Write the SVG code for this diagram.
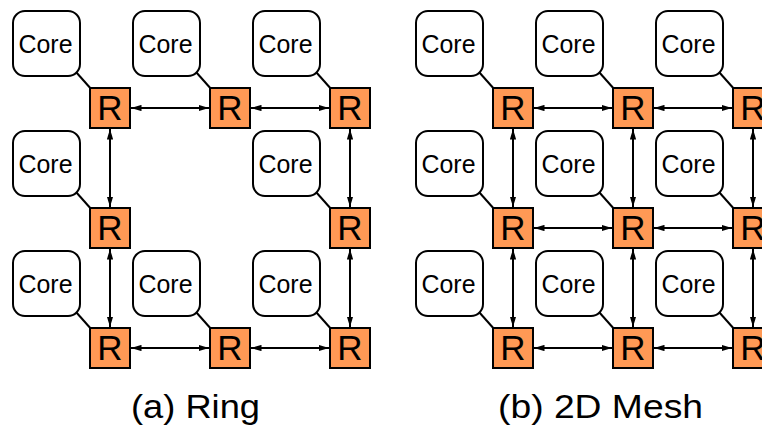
<svg xmlns="http://www.w3.org/2000/svg" width="762" height="431" viewBox="0 0 762 431">
  <style>
    .core rect { fill: #ffffff; stroke: #000000; stroke-width: 2; }
    .core text { font-family: "Liberation Sans", Arial, sans-serif; font-size: 25px; text-anchor: middle; fill: #000000; }
    .router rect { fill: #FF9955; stroke: #000000; stroke-width: 2; }
    .router text { font-family: "Liberation Sans", Arial, sans-serif; font-size: 35px; text-anchor: middle; fill: #000000; }
    .link { stroke: #000000; stroke-width: 2; fill: none; }
    .arrow { stroke: #000000; stroke-width: 2; fill: none; marker-start: url(#head); marker-end: url(#head); }
    .caption { font-family: "Liberation Sans", Arial, sans-serif; font-size: 34px; fill: #000000; }
  </style>
  <defs>
    <marker id="head" viewBox="0 0 10 6" refX="10" refY="3" markerWidth="10.5" markerHeight="6.5" markerUnits="userSpaceOnUse" orient="auto-start-reverse">
      <path d="M0,0 L10,3 L0,6 z" fill="#000000"/>
    </marker>
  </defs>
  <rect x="0" y="0" width="762" height="431" fill="#ffffff"/>

  <!-- links: core-to-router stubs and router-to-router channels -->
  <g id="connectors">
    <!-- ring: core stubs -->
    <line class="link" x1="76" y1="72" x2="92" y2="90"/>
    <line class="link" x1="196" y1="72" x2="212" y2="90"/>
    <line class="link" x1="316" y1="72" x2="332" y2="90"/>
    <line class="link" x1="76" y1="192" x2="92" y2="210"/>
    <line class="link" x1="316" y1="192" x2="332" y2="210"/>
    <line class="link" x1="76" y1="312" x2="92" y2="330"/>
    <line class="link" x1="196" y1="312" x2="212" y2="330"/>
    <line class="link" x1="316" y1="312" x2="332" y2="330"/>
    <!-- ring: channels -->
    <line class="arrow" x1="131" y1="108" x2="209" y2="108"/>
    <line class="arrow" x1="251" y1="108" x2="329" y2="108"/>
    <line class="arrow" x1="131" y1="348" x2="209" y2="348"/>
    <line class="arrow" x1="251" y1="348" x2="329" y2="348"/>
    <line class="arrow" x1="110" y1="129" x2="110" y2="207"/>
    <line class="arrow" x1="110" y1="249" x2="110" y2="327"/>
    <line class="arrow" x1="350" y1="129" x2="350" y2="207"/>
    <line class="arrow" x1="350" y1="249" x2="350" y2="327"/>

    <!-- mesh: core stubs -->
    <line class="link" x1="479" y1="72" x2="495" y2="90"/>
    <line class="link" x1="599" y1="72" x2="615" y2="90"/>
    <line class="link" x1="719" y1="72" x2="735" y2="90"/>
    <line class="link" x1="479" y1="192" x2="495" y2="210"/>
    <line class="link" x1="599" y1="192" x2="615" y2="210"/>
    <line class="link" x1="719" y1="192" x2="735" y2="210"/>
    <line class="link" x1="479" y1="312" x2="495" y2="330"/>
    <line class="link" x1="599" y1="312" x2="615" y2="330"/>
    <line class="link" x1="719" y1="312" x2="735" y2="330"/>
    <!-- mesh: horizontal channels -->
    <line class="arrow" x1="534" y1="108" x2="612" y2="108"/>
    <line class="arrow" x1="654" y1="108" x2="732" y2="108"/>
    <line class="arrow" x1="534" y1="228" x2="612" y2="228"/>
    <line class="arrow" x1="654" y1="228" x2="732" y2="228"/>
    <line class="arrow" x1="534" y1="348" x2="612" y2="348"/>
    <line class="arrow" x1="654" y1="348" x2="732" y2="348"/>
    <!-- mesh: vertical channels -->
    <line class="arrow" x1="513" y1="129" x2="513" y2="207"/>
    <line class="arrow" x1="513" y1="249" x2="513" y2="327"/>
    <line class="arrow" x1="633" y1="129" x2="633" y2="207"/>
    <line class="arrow" x1="633" y1="249" x2="633" y2="327"/>
    <line class="arrow" x1="753" y1="129" x2="753" y2="207"/>
    <line class="arrow" x1="753" y1="249" x2="753" y2="327"/>
  </g>

  <!-- (a) ring topology -->
  <g id="ring">
    <g id="ring-core-0-0" class="core"><rect x="13" y="11" width="67" height="65" rx="12"/><text x="45.5" y="53" textLength="54" lengthAdjust="spacingAndGlyphs">Core</text></g>
    <g id="ring-core-0-1" class="core"><rect x="133" y="11" width="67" height="65" rx="12"/><text x="165.5" y="53" textLength="54" lengthAdjust="spacingAndGlyphs">Core</text></g>
    <g id="ring-core-0-2" class="core"><rect x="253" y="11" width="67" height="65" rx="12"/><text x="285.5" y="53" textLength="54" lengthAdjust="spacingAndGlyphs">Core</text></g>
    <g id="ring-core-1-0" class="core"><rect x="13" y="131" width="67" height="65" rx="12"/><text x="45.5" y="173" textLength="54" lengthAdjust="spacingAndGlyphs">Core</text></g>
    <g id="ring-core-1-2" class="core"><rect x="253" y="131" width="67" height="65" rx="12"/><text x="285.5" y="173" textLength="54" lengthAdjust="spacingAndGlyphs">Core</text></g>
    <g id="ring-core-2-0" class="core"><rect x="13" y="251" width="67" height="65" rx="12"/><text x="45.5" y="293" textLength="54" lengthAdjust="spacingAndGlyphs">Core</text></g>
    <g id="ring-core-2-1" class="core"><rect x="133" y="251" width="67" height="65" rx="12"/><text x="165.5" y="293" textLength="54" lengthAdjust="spacingAndGlyphs">Core</text></g>
    <g id="ring-core-2-2" class="core"><rect x="253" y="251" width="67" height="65" rx="12"/><text x="285.5" y="293" textLength="54" lengthAdjust="spacingAndGlyphs">Core</text></g>

    <g id="ring-router-0-0" class="router"><rect x="90" y="88" width="40" height="40"/><text x="110" y="120">R</text></g>
    <g id="ring-router-0-1" class="router"><rect x="210" y="88" width="40" height="40"/><text x="230" y="120">R</text></g>
    <g id="ring-router-0-2" class="router"><rect x="330" y="88" width="40" height="40"/><text x="350" y="120">R</text></g>
    <g id="ring-router-1-0" class="router"><rect x="90" y="208" width="40" height="40"/><text x="110" y="240">R</text></g>
    <g id="ring-router-1-2" class="router"><rect x="330" y="208" width="40" height="40"/><text x="350" y="240">R</text></g>
    <g id="ring-router-2-0" class="router"><rect x="90" y="328" width="40" height="40"/><text x="110" y="360">R</text></g>
    <g id="ring-router-2-1" class="router"><rect x="210" y="328" width="40" height="40"/><text x="230" y="360">R</text></g>
    <g id="ring-router-2-2" class="router"><rect x="330" y="328" width="40" height="40"/><text x="350" y="360">R</text></g>
  </g>

  <!-- (b) 2D mesh topology -->
  <g id="mesh">
    <g id="mesh-core-0-0" class="core"><rect x="416" y="11" width="67" height="65" rx="12"/><text x="448.5" y="53" textLength="54" lengthAdjust="spacingAndGlyphs">Core</text></g>
    <g id="mesh-core-0-1" class="core"><rect x="536" y="11" width="67" height="65" rx="12"/><text x="568.5" y="53" textLength="54" lengthAdjust="spacingAndGlyphs">Core</text></g>
    <g id="mesh-core-0-2" class="core"><rect x="656" y="11" width="67" height="65" rx="12"/><text x="688.5" y="53" textLength="54" lengthAdjust="spacingAndGlyphs">Core</text></g>
    <g id="mesh-core-1-0" class="core"><rect x="416" y="131" width="67" height="65" rx="12"/><text x="448.5" y="173" textLength="54" lengthAdjust="spacingAndGlyphs">Core</text></g>
    <g id="mesh-core-1-1" class="core"><rect x="536" y="131" width="67" height="65" rx="12"/><text x="568.5" y="173" textLength="54" lengthAdjust="spacingAndGlyphs">Core</text></g>
    <g id="mesh-core-1-2" class="core"><rect x="656" y="131" width="67" height="65" rx="12"/><text x="688.5" y="173" textLength="54" lengthAdjust="spacingAndGlyphs">Core</text></g>
    <g id="mesh-core-2-0" class="core"><rect x="416" y="251" width="67" height="65" rx="12"/><text x="448.5" y="293" textLength="54" lengthAdjust="spacingAndGlyphs">Core</text></g>
    <g id="mesh-core-2-1" class="core"><rect x="536" y="251" width="67" height="65" rx="12"/><text x="568.5" y="293" textLength="54" lengthAdjust="spacingAndGlyphs">Core</text></g>
    <g id="mesh-core-2-2" class="core"><rect x="656" y="251" width="67" height="65" rx="12"/><text x="688.5" y="293" textLength="54" lengthAdjust="spacingAndGlyphs">Core</text></g>

    <g id="mesh-router-0-0" class="router"><rect x="493" y="88" width="40" height="40"/><text x="513" y="120">R</text></g>
    <g id="mesh-router-0-1" class="router"><rect x="613" y="88" width="40" height="40"/><text x="633" y="120">R</text></g>
    <g id="mesh-router-0-2" class="router"><rect x="733" y="88" width="40" height="40"/><text x="753" y="120">R</text></g>
    <g id="mesh-router-1-0" class="router"><rect x="493" y="208" width="40" height="40"/><text x="513" y="240">R</text></g>
    <g id="mesh-router-1-1" class="router"><rect x="613" y="208" width="40" height="40"/><text x="633" y="240">R</text></g>
    <g id="mesh-router-1-2" class="router"><rect x="733" y="208" width="40" height="40"/><text x="753" y="240">R</text></g>
    <g id="mesh-router-2-0" class="router"><rect x="493" y="328" width="40" height="40"/><text x="513" y="360">R</text></g>
    <g id="mesh-router-2-1" class="router"><rect x="613" y="328" width="40" height="40"/><text x="633" y="360">R</text></g>
    <g id="mesh-router-2-2" class="router"><rect x="733" y="328" width="40" height="40"/><text x="753" y="360">R</text></g>
  </g>

  <!-- captions -->
  <text class="caption" x="131" y="418" textLength="129" lengthAdjust="spacingAndGlyphs">(a) Ring</text>
  <text class="caption" x="498" y="418" textLength="205" lengthAdjust="spacingAndGlyphs">(b) 2D Mesh</text>
</svg>
